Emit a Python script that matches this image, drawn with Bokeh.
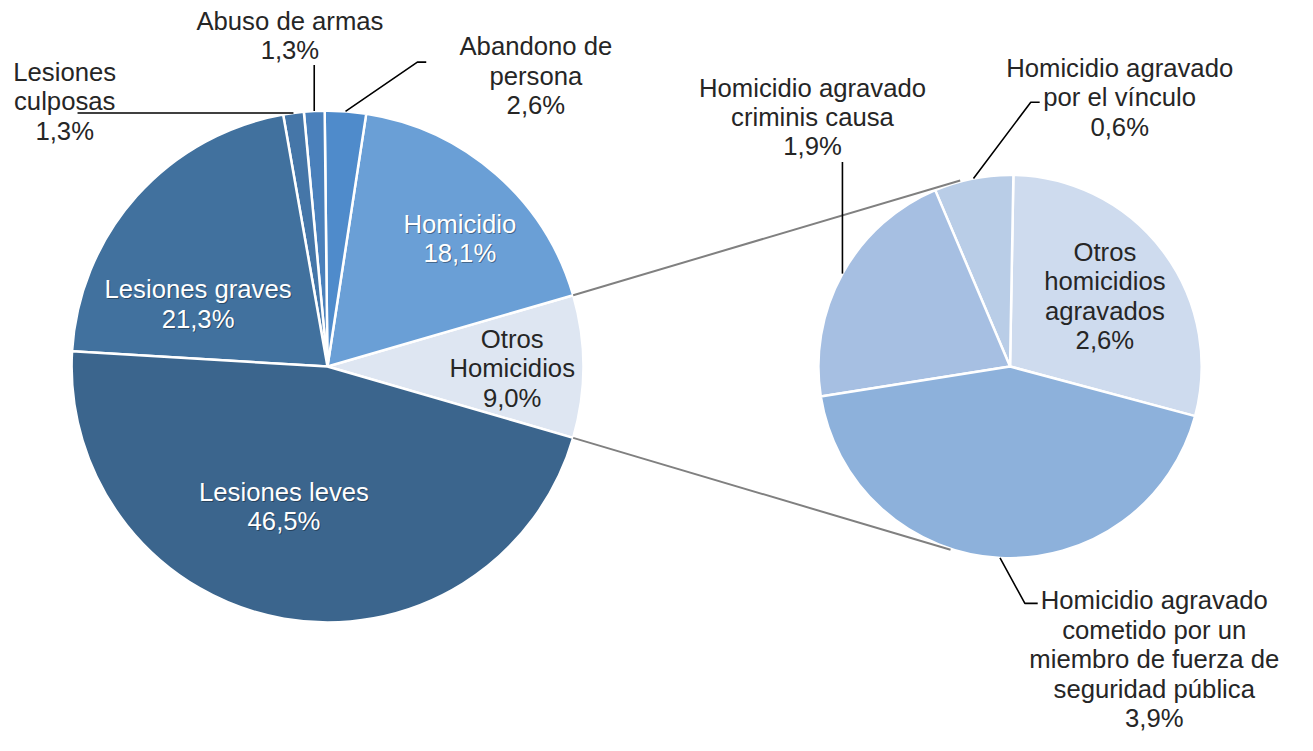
import math
from bokeh.plotting import figure
from bokeh.models import Range1d, ColumnDataSource
from bokeh.core.properties import value
from bokeh.embed import file_html
from bokeh.resources import INLINE

# ---------------- data ----------------
main_names = ["Otros Homicidios", "Homicidio", "Abandono de persona", "Abuso de armas",
              "Lesiones culposas", "Lesiones graves", "Lesiones leves"]
main_values = [9.0, 18.1, 2.6, 1.3, 1.3, 21.3, 46.5]
main_colors = ["#DEE6F2", "#6A9FD6", "#4F8BCB", "#4A80BB", "#4576A8", "#41719E", "#3B658D"]

sub_names = ["Otros homicidios agravados", "Homicidio agravado por el vínculo",
             "Homicidio agravado criminis causa",
             "Homicidio agravado cometido por un miembro de fuerza de seguridad pública"]
sub_values = [2.6, 0.6, 1.9, 3.9]
sub_colors = ["#CEDBEE", "#B9CDE7", "#A6BFE2", "#8DB1DB"]

# label line breaks (text content)
main_label_lines = [["Otros", "Homicidios"], ["Homicidio"], ["Abandono de", "persona"],
                    ["Abuso de armas"], ["Lesiones", "culposas"], ["Lesiones graves"],
                    ["Lesiones leves"]]
sub_label_lines = [["Otros", "homicidios", "agravados"], ["Homicidio agravado", "por el vínculo"],
                   ["Homicidio agravado", "criminis causa"],
                   ["Homicidio agravado", "cometido por un", "miembro de fuerza de", "seguridad pública"]]

# ---------------- layout (reference pixel coords) ----------------
W_REF, H_REF = 1313, 751
FW, FH = 1297, 735
SX, SY = FW / W_REF, FH / H_REF
K = SX / SY  # keeps circles round on screen

def Y(y):
    return H_REF - y

FONT = "Liberation Sans"
FS = "%.1fpx" % (26 * SX)
LS = 30.0
DARK = "#262626"

MC = (331.0, 374.0); MR = 259.0
SC = (1022.0, 374.0); SR = 194.0
sub_start_deg = -15.0

main_label_pos = [(518, 346, DARK), (465, 228, "white"), (542, 47, DARK), (293, 21, DARK),
                  (65, 73, DARK), (200, 295, "white"), (287, 502, "white")]
sub_label_pos = [(1118, 257, DARK), (1133, 69, DARK), (822, 89, DARK), (1168, 613, DARK)]

p = figure(width=FW, height=FH, x_range=Range1d(0, W_REF), y_range=Range1d(0, H_REF),
           output_backend="svg", toolbar_location=None, min_border=0)
p.axis.visible = False
p.grid.visible = False
p.outline_line_color = None
p.background_fill_color = "white"

def pct(v):
    return ("%.1f" % v).replace(".", ",") + "%"

# ---- main pie ----
tot = sum(main_values)
starts, ends = [], []
a = -main_values[0] / tot * 2 * math.pi / 2
for v in main_values:
    starts.append(a)
    a += v / tot * 2 * math.pi
    ends.append(a)
msrc = ColumnDataSource(dict(x=[MC[0]] * len(main_values), y=[Y(MC[1])] * len(main_values),
                             start=starts, end=ends, color=main_colors))
p.wedge(x="x", y="y", radius=MR, start_angle="start", end_angle="end", fill_color="color",
        line_color="white", line_width=2.5, source=msrc)

# ---- sub pie ----
stot = sum(sub_values)
sstarts, sends = [], []
a = math.radians(sub_start_deg)
for v in sub_values:
    sstarts.append(a)
    a += v / stot * 2 * math.pi
    sends.append(a)
ssrc = ColumnDataSource(dict(x=[SC[0]] * len(sub_values), y=[Y(SC[1])] * len(sub_values),
                             start=sstarts, end=sends, color=sub_colors))
p.wedge(x="x", y="y", radius=SR, start_angle="start", end_angle="end", fill_color="color",
        line_color="white", line_width=2.5, source=ssrc)

# ---- connector lines ----
def rim(c, r, ang):
    return (c[0] + r * math.cos(ang), Y(c[1]) + r * math.sin(ang) * K)

t0 = rim(MC, MR, ends[0]); b0 = rim(MC, MR, starts[0])
t1 = rim(SC, SR + 1, math.radians(105)); b1 = rim(SC, SR + 1, math.radians(-108))
p.line([t0[0], t1[0]], [t0[1], t1[1]], line_color="#808080", line_width=2)
p.line([b0[0], b1[0]], [b0[1], b1[1]], line_color="#808080", line_width=2)

# ---- leader lines ----
def mid(st, en, i):
    return (st[i] + en[i]) / 2

leaders = []
s = rim(MC, MR, mid(starts, ends, 4)); leaders.append(([s[0], 78], [s[1], s[1]]))
s = rim(MC, MR, mid(starts, ends, 3)); leaders.append(([s[0], s[0]], [s[1], Y(66)]))
s = rim(MC, MR, mid(starts, ends, 2)); leaders.append(([s[0], 422, 431], [s[1], Y(63), Y(63)]))
s = rim(SC, SR, mid(sstarts, sends, 2)); leaders.append(([s[0], s[0]], [s[1], Y(165)]))
s = rim(SC, SR, mid(sstarts, sends, 1)); leaders.append(([s[0], 1043, 1052], [s[1], Y(104), Y(104)]))
s = rim(SC, SR, mid(sstarts, sends, 3)); leaders.append(([s[0], 1037, 1050], [s[1], Y(616), Y(616)]))
for xs, ys in leaders:
    p.line(xs, ys, line_color="black", line_width=1.6)

# ---- labels ----
tx, ty, tt, tc = [], [], [], []
def add_label(lines, v, pos):
    cx, y0, col = pos
    for k, ln in enumerate(lines + [pct(v)]):
        tx.append(cx); ty.append(Y(y0 + k * LS)); tt.append(ln); tc.append(col)

for i in range(len(main_values)):
    add_label(main_label_lines[i], main_values[i], main_label_pos[i])
for i in range(len(sub_values)):
    add_label(sub_label_lines[i], sub_values[i], sub_label_pos[i])

tsrc = ColumnDataSource(dict(x=tx, y=ty, t=tt, c=tc,
                             sa=[0.35 if c == "white" else 0.0 for c in tc]))
# soft shadow behind white labels
p.text(x="x", y="y", text="t", text_color="black", text_alpha="sa", source=tsrc,
       text_font=value(FONT), text_font_size=FS, text_align="center",
       text_baseline="middle", x_offset=1, y_offset=1)
p.text(x="x", y="y", text="t", text_color="c", source=tsrc, text_font=value(FONT),
       text_font_size=FS, text_align="center", text_baseline="middle")

open("out.html", "w").write(file_html(p, INLINE))
